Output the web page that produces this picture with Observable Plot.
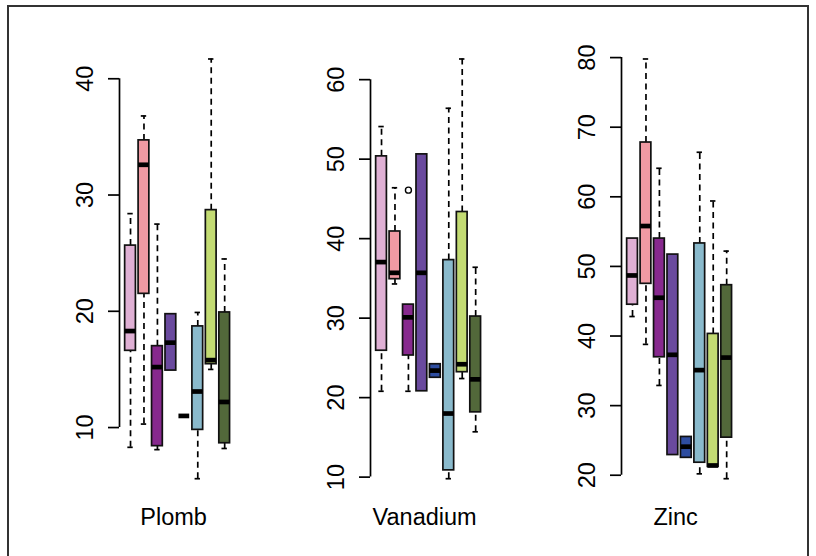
<!DOCTYPE html>
<html><head><meta charset="utf-8">
<script src="https://cdn.jsdelivr.net/npm/d3@7"></script>
<script src="https://cdn.jsdelivr.net/npm/@observablehq/plot@0.6"></script>
<style>
body{margin:0;background:#fff;}
#wrap{position:relative;width:816px;height:556px;overflow:hidden;font-family:"Liberation Sans",Arial,sans-serif;background:#fff;}
#frame{position:absolute;left:7px;top:5px;width:802px;height:620px;border:2px solid #333;box-sizing:border-box;}
.panel{position:absolute;top:0;}
</style></head><body>
<div id="wrap"><div id="frame"></div></div>
<script>
const groups = [1, 2, 3, 4, 5, 6, 7, 8];
const colors = ["#DFB0D4", "#F09AA3", "#87298E", "#6A4A9E", "#2E4DA0", "#8ABACC", "#C3DB73", "#52683A"];

const plombLow  = [8.3, 10.3, 8.1, 14.9, 11.0, 5.6, 15.0, 8.2];
const plombQ1   = [16.6, 21.5, 8.4, 14.9, 11.0, 9.8, 15.45, 8.65];
const plombMed  = [18.3, 32.6, 15.2, 17.3, 11.0, 13.1, 15.8, 12.2];
const plombQ3   = [25.65, 34.7, 17.0, 19.75, 11.0, 18.7, 28.7, 19.9];
const plombHigh = [28.4, 36.8, 27.5, 19.75, 11.0, 19.9, 41.7, 24.5];
const plombOut  = [];
const plombTicks = [10, 20, 30, 40];

const vanLow  = [20.8, 34.3, 20.8, 20.8, 22.5, 9.8, 22.4, 15.7];
const vanQ1   = [25.9, 34.9, 25.3, 20.8, 22.5, 10.85, 23.2, 18.15];
const vanMed  = [37.05, 35.7, 30.1, 35.7, 23.4, 18.0, 24.2, 22.3];
const vanQ3   = [50.35, 40.9, 31.7, 50.6, 24.2, 37.3, 43.35, 30.2];
const vanHigh = [54.1, 46.4, 31.7, 50.6, 24.2, 56.4, 62.6, 36.4];
const vanOutGroup = [3];
const vanOutValue = [46.1];
const vanTicks = [10, 20, 30, 40, 50, 60];

const zincLow  = [42.8, 38.8, 32.9, 22.9, 22.5, 20.2, 21.2, 19.5];
const zincQ1   = [44.5, 47.5, 36.95, 22.9, 22.5, 21.8, 21.2, 25.4];
const zincMed  = [48.7, 55.8, 45.5, 37.3, 24.1, 35.1, 21.4, 36.9];
const zincQ3   = [54.0, 67.8, 54.0, 51.7, 25.5, 53.3, 40.3, 47.3];
const zincHigh = [54.0, 79.8, 64.1, 51.7, 25.5, 66.4, 59.4, 52.2];
const zincOut  = [];
const zincTicks = [20, 30, 40, 50, 60, 70, 80];

const panelNames = ["Plomb", "Vanadium", "Zinc"];

const panels = [
  {name: panelNames[0], left: 59, lo: plombLow, q1: plombQ1, med: plombMed, q3: plombQ3, hi: plombHigh, out: plombOut, ticks: plombTicks},
  {name: panelNames[1], left: 310, lo: vanLow, q1: vanQ1, med: vanMed, q3: vanQ3, hi: vanHigh,
   out: vanOutGroup.map((g, i) => ({g, v: vanOutValue[i]})), ticks: vanTicks},
  {name: panelNames[2], left: 561, lo: zincLow, q1: zincQ1, med: zincMed, q3: zincQ3, hi: zincHigh, out: zincOut, ticks: zincTicks}
];

const LW = 1.7;
function build(p) {
  const rows = groups.map((g, i) => ({g, lo: p.lo[i], q1: p.q1[i], med: p.med[i], q3: p.q3[i], hi: p.hi[i], color: colors[i]}));
  const vals = rows.flatMap(r => [r.lo, r.hi]).concat(p.out.map(o => o.v));
  const [mn, mx] = d3.extent(vals);
  const pad = (mx - mn) * 0.04;
  const upper = rows.filter(r => r.hi > r.q3);
  const lower = rows.filter(r => r.lo < r.q1);
  const chart = Plot.plot({
    width: 251, height: 556,
    marginLeft: 60, marginRight: 74.8, marginTop: 41.7, marginBottom: 61,
    x: {domain: [0.18, 8.82], axis: null},
    y: {domain: [mn - pad, mx + pad], axis: null},
    color: {type: "identity"},
    style: {background: "transparent", fontFamily: "'Liberation Sans', Arial, sans-serif", overflow: "visible", color: "#000"},
    marks: [
      Plot.ruleX([0.18], {y1: p.ticks[0], y2: p.ticks[p.ticks.length - 1], stroke: "#000", strokeWidth: LW}),
      Plot.axisY({ticks: p.ticks, tickSize: 11, tickRotate: -90, tickPadding: 16, fontSize: 23.5, strokeWidth: LW, label: null, stroke: "#000", fill: "#000"}),
      Plot.ruleX(upper, {x: "g", y1: "q3", y2: "hi", stroke: "#000", strokeWidth: LW, strokeDasharray: "6,4.5"}),
      Plot.ruleX(lower, {x: "g", y1: "lo", y2: "q1", stroke: "#000", strokeWidth: LW, strokeDasharray: "6,4.5"}),
      Plot.ruleY(upper, {y: "hi", x1: r => r.g - 0.2, x2: r => r.g + 0.2, stroke: "#000", strokeWidth: LW}),
      Plot.ruleY(lower, {y: "lo", x1: r => r.g - 0.2, x2: r => r.g + 0.2, stroke: "#000", strokeWidth: LW}),
      Plot.rect(rows, {x1: r => r.g - 0.4, x2: r => r.g + 0.4, y1: "q1", y2: "q3", fill: "color", stroke: "#111", strokeWidth: LW}),
      Plot.ruleY(rows, {y: "med", x1: r => r.g - 0.4, x2: r => r.g + 0.4, stroke: "#000", strokeWidth: 4.7}),
      Plot.dot(p.out, {x: "g", y: "v", r: 3, stroke: "#000", strokeWidth: 1.4, fill: "none"}),
      Plot.text([p.name], {frameAnchor: "bottom", dy: 29, dx: -4, fontSize: 23.5, fill: "#000"})
    ]
  });
  chart.classList.add("panel");
  chart.style.position = "absolute";
  chart.style.left = p.left + "px";
  chart.style.top = "0px";
  return chart;
}
const wrap = document.getElementById("wrap");
panels.forEach(p => wrap.appendChild(build(p)));
</script>
</body></html>
